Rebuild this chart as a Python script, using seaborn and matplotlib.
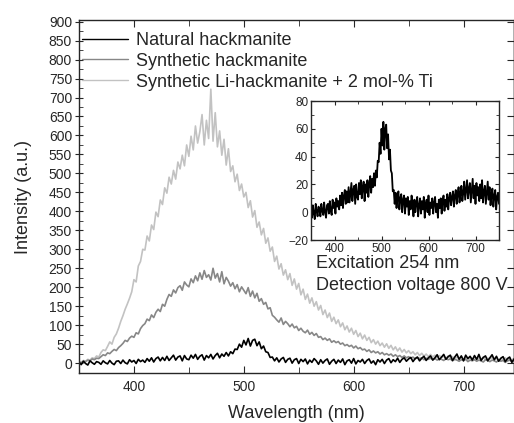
import numpy as np
import pandas as pd
import matplotlib
matplotlib.use("Agg")
import matplotlib.pyplot as plt
from matplotlib.ticker import MultipleLocator
import seaborn as sns

# ---------------- data ----------------
wavelength = np.arange(350, 751, 2)  # nm, sampling grid (201 points)

natural = [3, -4, 5, -1, -5, 6, 1, -3, 4, 2,
           -3, 6, 1, -2, 7, 0, -4, 5, 6, -1,
           8, 1, -2, 9, 3, 7, -1, 10, 4, 8,
           2, 12, 5, 14, 3, 12, 16, 6, 15, 7,
           18, 7, 14, 21, 8, 16, 19, 6, 20, 11,
           9, 21, 13, 23, 10, 18, 22, 8, 20, 14,
           23, 11, 20, 26, 14, 24, 18, 28, 19, 30,
           25, 37, 36, 50, 42, 60, 48, 65, 45, 60,
           63, 46, 56, 38, 45, 30, 28, 15, 16, 6,
           14, 3, 11, 15, 2, 10, 13, 0, 9, 12,
           -1, 10, 4, 11, -2, 8, 2, 12, 6, -3,
           9, 0, 7, 11, -3, 5, 10, -1, 8, 2,
           11, -4, 6, 9, 0, 12, -2, 7, 3, 10,
           -1, 7, 11, 0, 6, -4, 9, 3, 10, -1,
           8, 12, 1, 9, 4, 13, 2, 10, 14, 5,
           11, 15, 4, 12, 16, 6, 13, 18, 7, 14,
           19, 8, 14, 22, 9, 16, 23, 10, 17, 21,
           7, 16, 24, 10, 19, 6, 21, 12, 18, 8,
           20, 10, 23, 7, 15, 19, 6, 14, 22, 9,
           18, 5, 13, 17, 4, 12, 16, 2, 11, 14,
           6]

synthetic = [3, 1, 5, 4, 8, 6, 11, 9, 13, 12,
             17, 22, 20, 27, 25, 31, 36, 33, 41, 46,
             52, 60, 57, 66, 71, 68, 80, 77, 91, 99,
             104, 116, 112, 127, 120, 134, 142, 136, 155, 150,
             168, 181, 176, 193, 185, 199, 204, 192, 214, 206,
             201, 222, 212, 230, 217, 238, 221, 244, 226, 233,
             219, 250, 224, 236, 214, 241, 209, 226, 216, 203,
             212, 196, 207, 188, 201, 192, 183, 199, 176, 190,
             172, 184, 163, 170, 155, 160, 143, 146, 126, 121,
             114, 108, 119, 102, 110, 104, 96, 103, 93, 97,
             86, 92, 84, 80, 87, 76, 81, 73, 78, 68,
             70, 62, 66, 60, 64, 55, 59, 54, 57, 50,
             53, 46, 49, 44, 47, 40, 45, 38, 41, 35,
             37, 31, 35, 28, 32, 27, 30, 24, 28, 22,
             25, 21, 24, 18, 22, 17, 20, 15, 19, 14,
             17, 13, 16, 11, 15, 12, 14, 9, 13, 10,
             13, 9, 12, 8, 11, 10, 7, 12, 9, 11,
             6, 10, 8, 5, 9, 7, 10, 4, 8, 6,
             9, 5, 8, 6, 3, 9, 7, 4, 8, 6,
             3, 8, 5, 7, 2, 6, 8, 4, 7, 3,
             6]

li_ti = [4, 2, 7, 5, 10, 8, 14, 12, 19, 16,
         28, 35, 33, 44, 56, 50, 68, 77, 92, 110,
         125, 142, 156, 171, 188, 220, 214, 256, 268, 300,
         298, 335, 322, 364, 352, 398, 386, 430, 418, 462,
         448, 490, 472, 508, 485, 530, 512, 548, 520, 575,
         545, 598, 562, 625, 580, 610, 655, 575, 640, 592,
         722, 585, 660, 570, 612, 548, 590, 522, 565, 505,
         520, 478, 498, 455, 472, 438, 450, 410, 428, 385,
         402, 358, 372, 338, 355, 316, 330, 295, 306, 268,
         282, 248, 262, 232, 246, 220, 236, 205, 222, 195,
         210, 180, 195, 168, 182, 158, 172, 150, 162, 140,
         152, 128, 140, 120, 132, 110, 121, 104, 114, 96,
         106, 88, 98, 82, 92, 76, 86, 70, 79, 64,
         74, 60, 68, 54, 62, 50, 58, 46, 53, 42,
         51, 39, 47, 35, 43, 32, 40, 29, 36, 27,
         33, 25, 30, 22, 28, 20, 26, 18, 24, 17,
         23, 16, 21, 14, 20, 15, 18, 12, 19, 13,
         17, 11, 16, 12, 18, 10, 15, 9, 16, 11,
         15, 9, 14, 10, 16, 8, 13, 11, 15, 8,
         13, 7, 12, 9, 14, 6, 11, 8, 13, 7,
         10]

series_names = ["Natural hackmanite",
                "Synthetic hackmanite",
                "Synthetic Li-hackmanite + 2 mol-% Ti"]
series_colors = ["#000000", "#878787", "#c2c2c2"]

x_ticks_main = [400, 500, 600, 700]
y_ticks_main = list(range(0, 901, 50))
x_ticks_inset = [400, 500, 600, 700]
y_ticks_inset = [-20, 0, 20, 40, 60, 80]

annotations = ["Excitation 254 nm", "Detection voltage 800 V"]

# ---------------- style ----------------
sns.set_style("ticks")
plt.rcParams["font.family"] = ["Liberation Sans", "DejaVu Sans"]
plt.rcParams["axes.linewidth"] = 1.0

W, H = 514, 423
fig = plt.figure(figsize=(W / 100, H / 100), dpi=100)

def fx(px):
    return px / W

def fy(py):
    return 1 - py / H

# main axes: left spine x=79, right x=513.5, top y=20.5, bottom y=373
ax = fig.add_axes([fx(79), fy(373), fx(513.5) - fx(79), fy(20.5) - fy(373)])

df = pd.DataFrame({
    "Wavelength": np.concatenate([wavelength] * 3),
    "Intensity": np.concatenate([natural, synthetic, li_ti]),
    "Sample": np.repeat(series_names, len(wavelength)),
})

# draw light curves first so that darker ones sit on top
for name, col in zip(series_names[::-1], series_colors[::-1]):
    sub = df[df["Sample"] == name]
    sns.lineplot(data=sub, x="Wavelength", y="Intensity", color=col,
                 linewidth=1.2, ax=ax, label=name, estimator=None, sort=False)

ax.set_xlim(350, 745.5)
ax.set_ylim(-26, 903)
ax.set_xticks(x_ticks_main)
ax.xaxis.set_minor_locator(MultipleLocator(50))
ax.set_yticks(y_ticks_main)
ax.yaxis.set_minor_locator(MultipleLocator(25))
ax.tick_params(axis="x", which="both", direction="in", top=True, bottom=True,
               labelsize=10, pad=5)
ax.tick_params(axis="x", which="major", length=5)
ax.tick_params(axis="x", which="minor", length=4)
ax.tick_params(axis="y", which="major", direction="inout", length=6,
               labelsize=10, pad=2, right=False)
ax.tick_params(axis="y", which="minor", direction="in", length=3, right=False)
# right side: major ticks only, pointing inward
axr = ax.secondary_yaxis("right")
axr.set_yticks(y_ticks_main)
axr.tick_params(direction="in", length=5, labelright=False)
axr.set_yticklabels([])

ax.set_xlabel("Wavelength (nm)", fontsize=13, labelpad=8)
ax.set_ylabel("Intensity (a.u.)", fontsize=13, labelpad=12)

handles, labels = ax.get_legend_handles_labels()
order = [labels.index(n) for n in series_names]
leg = ax.legend([handles[i] for i in order], [labels[i] for i in order],
                loc="upper left", bbox_to_anchor=(fx(82), fy(32)),
                bbox_transform=fig.transFigure, frameon=False, fontsize=13,
                handlelength=2.55, handletextpad=0.45, labelspacing=0.21,
                borderpad=0, borderaxespad=0)
for lh in leg.get_lines():
    lh.set_linewidth(1.0)

for i, t in enumerate(annotations):
    fig.text(fx(316), fy(263 + 23 * i), t, fontsize=13, ha="left", va="center")

# inset
axi = fig.add_axes([fx(311), fy(240), fx(499) - fx(311), fy(101) - fy(240)])
sns.lineplot(x=wavelength, y=natural, color="#000000", linewidth=1.3, ax=axi,
             estimator=None, sort=False)
axi.set_xlim(350, 750)
axi.set_ylim(-20, 80)
axi.set_xticks(x_ticks_inset)
axi.set_yticks(y_ticks_inset)
axi.xaxis.set_minor_locator(MultipleLocator(50))
axi.yaxis.set_minor_locator(MultipleLocator(10))
axi.tick_params(which="both", direction="in", top=True, right=True,
                labelsize=8.5, pad=2)
axi.tick_params(which="major", length=3)
axi.tick_params(which="minor", length=2)
axi.set_xlabel("")
axi.set_ylabel("")
for sp in axi.spines.values():
    sp.set_linewidth(1.0)

fig.savefig("out.png", dpi=100)
